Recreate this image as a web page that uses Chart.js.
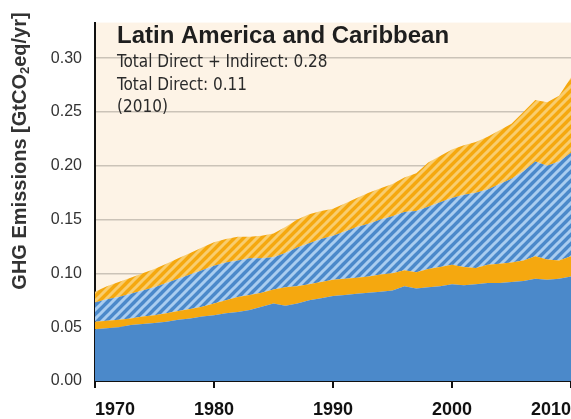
<!DOCTYPE html>
<html><head><meta charset="utf-8">
<script src="https://cdn.jsdelivr.net/npm/chart.js@4.4.1/dist/chart.umd.min.js"></script>
<style>html,body{margin:0;padding:0;background:#fff;}</style>
</head><body>
<canvas id="c" width="571" height="419"></canvas>
<script>
const years = [1970,1971,1972,1973,1974,1975,1976,1977,1978,1979,1980,1981,1982,1983,1984,1985,1986,1987,1988,1989,1990,1991,1992,1993,1994,1995,1996,1997,1998,1999,2000,2001,2002,2003,2004,2005,2006,2007,2008,2009,2010];
const directBlue = [0.048,0.049,0.050,0.052,0.053,0.054,0.055,0.057,0.058,0.060,0.061,0.063,0.064,0.066,0.069,0.072,0.070,0.072,0.075,0.077,0.079,0.080,0.081,0.082,0.083,0.084,0.088,0.086,0.087,0.088,0.090,0.089,0.090,0.091,0.091,0.092,0.093,0.095,0.094,0.095,0.097];
const directOrange = [0.007,0.007,0.007,0.006,0.007,0.007,0.008,0.008,0.009,0.009,0.011,0.012,0.014,0.014,0.013,0.013,0.017,0.016,0.015,0.015,0.015,0.015,0.015,0.015,0.016,0.016,0.015,0.015,0.017,0.018,0.018,0.017,0.015,0.017,0.018,0.018,0.019,0.021,0.019,0.017,0.019];
const indirectBlue = [0.018,0.020,0.021,0.023,0.024,0.026,0.028,0.030,0.032,0.034,0.035,0.035,0.034,0.034,0.032,0.030,0.032,0.036,0.038,0.040,0.041,0.044,0.047,0.049,0.051,0.053,0.054,0.057,0.058,0.060,0.062,0.067,0.070,0.070,0.074,0.078,0.083,0.088,0.087,0.092,0.096];
const indirectOrange = [0.010,0.012,0.014,0.015,0.016,0.017,0.018,0.019,0.020,0.021,0.022,0.022,0.022,0.020,0.021,0.022,0.024,0.026,0.027,0.026,0.025,0.026,0.027,0.029,0.029,0.030,0.032,0.035,0.041,0.043,0.045,0.046,0.047,0.049,0.050,0.051,0.055,0.057,0.059,0.061,0.070];
const yTicks = [0,0.05,0.10,0.15,0.20,0.25,0.30];
const yTickLabels = ['0.00','0.05','0.10','0.15','0.20','0.25','0.30'];
const xTicks = [1970,1980,1990,2000,2010];
const xTickLabels = ['1970','1980','1990','2000','2010'];
const titleText = 'Latin America and Caribbean';
const infoLines = ['Total Direct + Indirect: 0.28','Total Direct: 0.11','(2010)'];
const yTitleParts = ['GHG Emissions [GtCO','2','eq/yr]'];

const BLUE = '#4b89ca', ORANGE = '#f5a80f';
function hatch(base, stripe){
  const c = document.createElement('canvas'); c.width = c.height = 9;
  const g = c.getContext('2d');
  g.fillStyle = base; g.fillRect(0,0,9,9);
  g.strokeStyle = stripe; g.lineWidth = 3; g.beginPath();
  g.moveTo(-2,11); g.lineTo(11,-2);
  g.moveTo(-2,2); g.lineTo(2,-2);
  g.moveTo(7,11); g.lineTo(11,7);
  g.stroke();
  return g.createPattern(c,'repeat');
}
const ctx0 = document.getElementById('c').getContext('2d');

const bgPlugin = {
  id:'bg',
  beforeDraw(chart){
    const {ctx, chartArea:a} = chart;
    ctx.save(); ctx.fillStyle = '#fdf3e6';
    ctx.fillRect(a.left, a.top, a.right-a.left, a.bottom-a.top);
    ctx.restore();
  },
  afterDraw(chart){
    const ctx = chart.ctx;
    ctx.save();
    ctx.fillStyle = '#1e1e1e';
    ctx.textBaseline = 'alphabetic';
    ctx.font = 'bold 24px "Liberation Sans", Arial, sans-serif';
    ctx.fillText(titleText, 117, 43);
    ctx.font = '17px "Liberation Sans Narrow", "DejaVu Sans Condensed", sans-serif';
    ctx.fillStyle = '#2a2a2a';
    infoLines.forEach((t,i)=>ctx.fillText(t, 117, 67 + i*22.5));
    // y axis title
    ctx.translate(19, 151); ctx.rotate(-Math.PI/2);
    const fMain = 'bold 20px "Liberation Sans", Arial, sans-serif';
    const fSub = 'bold 13px "Liberation Sans", Arial, sans-serif';
    ctx.font = fMain; const w1 = ctx.measureText(yTitleParts[0]).width, w3 = ctx.measureText(yTitleParts[2]).width;
    ctx.font = fSub; const w2 = ctx.measureText(yTitleParts[1]).width;
    let x0 = -(w1+w2+w3)/2;
    ctx.textBaseline = 'alphabetic'; ctx.fillStyle = '#333';
    ctx.font = fMain; ctx.fillText(yTitleParts[0], x0, 7);
    ctx.font = fSub; ctx.fillText(yTitleParts[1], x0+w1, 10);
    ctx.font = fMain; ctx.fillText(yTitleParts[2], x0+w1+w2, 7);
    ctx.restore();
  }
};

new Chart(ctx0, {
  type:'line',
  data:{
    labels: years,
    datasets:[
      {label:'Direct A', data:directBlue, backgroundColor:BLUE, fill:'origin'},
      {label:'Direct B', data:directOrange, backgroundColor:ORANGE, fill:'-1'},
      {label:'Indirect A', data:indirectBlue, backgroundColor:hatch(BLUE,'#a9cdf0'), fill:'-1'},
      {label:'Indirect B', data:indirectOrange, backgroundColor:hatch(ORANGE,'#f9cd6e'), fill:'-1'}
    ].map(d=>Object.assign(d,{borderWidth:0, pointRadius:0, tension:0}))
  },
  options:{
    responsive:false, animation:false,
    layout:{padding:{top:5,left:0,right:0,bottom:0}},
    plugins:{legend:{display:false}, tooltip:{enabled:false}},
    scales:{
      x:{type:'linear', min:1970, max:2010,
        afterBuildTicks:s=>{s.ticks = xTicks.map(v=>({value:v}));},
        afterFit:s=>{s.height=38; s.paddingLeft=0; s.paddingRight=0;},
        border:{display:true,color:'#111',width:2},
        grid:{drawOnChartArea:false, drawTicks:true, tickLength:7, color:'#111', lineWidth:2},
        ticks:{align:'inner', padding:11, color:'#111', maxRotation:0, autoSkip:false,
          font:{family:'"Liberation Sans", Arial, sans-serif', size:18, weight:'bold'},
          callback:(v,i)=>xTickLabels[i]}
      },
      y:{stacked:true, min:0, max:0.333,
        afterBuildTicks:s=>{s.ticks = yTicks.map(v=>({value:v}));},
        afterFit:s=>{s.width=95;},
        border:{display:true,color:'#111',width:2},
        grid:{color:'#cbc3b8', lineWidth:1.5, drawTicks:false},
        ticks:{padding:13, color:'#333',
          font:{family:'"Liberation Sans", Arial, sans-serif', size:16},
          callback:(v,i)=>yTickLabels[i]}
      }
    }
  },
  plugins:[bgPlugin]
});
</script>
</body></html>
